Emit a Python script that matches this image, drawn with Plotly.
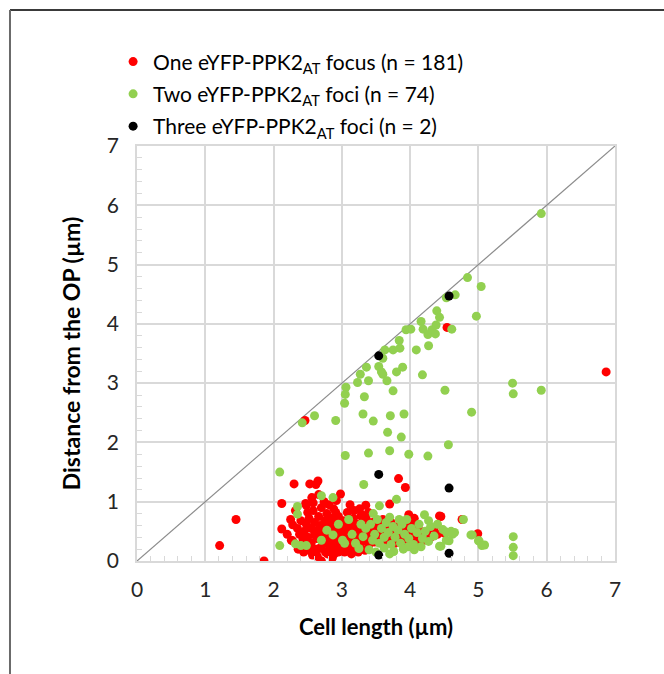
import plotly.graph_objects as go

# ---- data ----
red_x = [1.21, 1.45, 1.86, 2.69, 2.12, 2.12, 2.28, 2.30, 2.53, 2.65, 2.62, 2.56, 2.48, 2.47, 2.50, 2.43, 2.26, 2.28, 2.67,
         2.46, 4.54, 6.87, 2.98, 3.35, 3.70, 3.83, 3.93, 3.28, 3.98, 4.43, 4.06, 4.76, 4.99, 4.45, 4.50, 3.63, 2.87, 2.70,
         2.35, 2.38, 2.40, 2.42, 2.45, 2.48, 2.50, 2.52, 2.55, 2.55, 2.58, 2.60, 2.60, 2.62, 2.63, 2.65, 2.66, 2.68, 2.70,
         2.70, 2.72, 2.73, 2.75, 2.76, 2.78, 2.78, 2.80, 2.80, 2.82, 2.83, 2.84, 2.85, 2.86, 2.87, 2.88, 2.88, 2.90, 2.90,
         2.92, 2.93, 2.94, 2.95, 2.96, 2.97, 2.98, 3.00, 3.00, 3.02, 3.03, 3.05, 3.05, 3.07, 3.08, 3.10, 3.10, 3.12, 3.13,
         3.15, 3.15, 3.17, 3.18, 3.20, 3.20, 3.22, 3.23, 3.25, 3.26, 3.27, 3.28, 3.30, 3.30, 3.32, 3.33, 3.35, 3.36, 3.38,
         3.40, 3.40, 3.42, 3.44, 3.45, 3.47, 3.48, 3.50, 3.52, 3.55, 3.57, 3.60, 3.62, 3.65, 3.68, 3.70, 3.72, 3.75, 3.78,
         3.80, 3.82, 3.85, 3.88, 3.90, 3.93, 3.95, 3.98, 4.00, 4.02, 4.05, 4.08, 4.10, 4.12, 4.15, 4.20, 4.25, 4.30, 4.35,
         4.40, 2.20, 2.25, 2.32, 2.36, 2.44, 2.52, 2.57, 2.64, 2.74, 2.79, 2.81, 2.84, 2.89, 2.91, 2.95, 2.99, 3.04, 3.09,
         3.14, 3.19, 3.24, 3.29, 3.34, 3.39, 2.74, 2.58, 2.66, 2.92, 3.12, 3.18]
red_y = [0.26, 0.70, 0.00, 0.00, 0.97, 0.54, 0.61, 1.30, 1.30, 1.35, 1.29, 1.07, 0.94, 0.97, 0.82, 0.37, 0.35, 0.34, 0.21,
         2.37, 3.94, 3.19, 1.13, 0.94, 0.96, 1.39, 1.24, 0.76, 0.78, 0.76, 0.72, 0.70, 0.46, 0.75, 0.47, 0.30, 0.10, 0.00,
         0.55, 0.45, 0.68, 0.28, 0.50, 0.62, 0.40, 0.72, 0.30, 0.55, 0.85, 0.45, 0.65, 0.20, 0.38, 0.52, 0.75, 0.60, 0.42,
         0.90, 0.28, 0.55, 0.68, 0.15, 0.48, 0.80, 0.35, 0.60, 0.25, 0.50, 0.72, 0.40, 0.05, 0.58, 0.30, 0.88, 0.45, 0.65,
         0.20, 0.52, 0.38, 0.75, 0.60, 0.28, 0.48, 0.55, 0.35, 0.68, 0.42, 0.25, 0.60, 0.50, 0.82, 0.38, 0.58, 0.45, 0.65,
         0.30, 0.52, 0.72, 0.42, 0.58, 0.35, 0.48, 0.62, 0.40, 0.88, 0.55, 0.30, 0.50, 0.65, 0.42, 0.58, 0.35, 0.70, 0.48,
         0.60, 0.28, 0.52, 0.40, 0.65, 0.55, 0.32, 0.45, 0.62, 0.38, 0.52, 0.70, 0.45, 0.58, 0.35, 0.50, 0.65, 0.42, 0.30,
         0.55, 0.45, 0.62, 0.38, 0.50, 0.28, 0.60, 0.45, 0.35, 0.52, 0.62, 0.40, 0.30, 0.55, 0.45, 0.35, 0.50, 0.40, 0.55,
         0.45, 0.45, 0.70, 0.85, 0.20, 0.15, 0.18, 0.10, 0.08, 0.38, 0.12, 0.95, 0.18, 0.12, 0.82, 0.15, 0.22, 0.15, 0.20,
         0.12, 0.22, 0.15, 0.78, 0.18, 0.82, 1.00, 0.98, 1.12, 1.02, 0.95, 0.85]

green_x = [4.84, 4.66, 4.53, 4.97, 4.39, 4.43, 4.16, 4.38, 4.19, 4.32, 4.26, 4.37, 4.01, 3.94, 4.61, 4.27, 4.09, 3.84, 3.85,
           3.75, 3.63, 3.60, 3.54, 3.58, 3.60, 3.36, 3.27, 3.23, 3.39, 3.66, 3.80, 3.89, 4.18, 3.75, 3.06, 3.05, 3.04, 3.33,
           4.51, 2.60, 2.42, 2.91, 3.31, 3.46, 3.71, 3.91, 3.67, 3.87, 4.90, 4.56, 5.92, 5.04, 5.50, 5.51, 5.92,
           3.05, 3.39, 3.70, 3.98, 4.26, 3.32, 2.09, 2.70, 2.87, 3.80, 3.55, 3.46, 2.35, 2.35,
           2.09, 2.32, 2.40, 2.48, 2.70, 4.21, 4.27, 3.84, 3.70, 4.78, 4.65, 4.91, 5.09, 5.01, 4.43, 4.53, 4.27, 4.16, 4.06,
           3.97, 3.76, 3.40, 3.25, 3.04, 2.87, 3.01, 3.31, 4.48, 4.53, 4.60, 4.62, 4.57, 4.45, 4.89, 5.00, 5.05, 5.51, 5.51,
           5.51, 3.35, 3.42, 3.48, 3.52, 3.55, 3.58, 3.62, 3.65, 3.68, 3.72, 3.75, 3.78, 3.82, 3.86, 3.88, 3.92, 3.95, 3.98,
           4.02, 4.05, 4.10, 4.13, 4.18, 4.22, 4.30, 4.35, 4.40, 3.45, 3.62, 3.90, 3.15, 3.20, 2.95, 2.78, 3.10, 3.28, 3.50,
           3.70]
green_y = [4.78, 4.49, 4.44, 4.13, 4.22, 4.11, 4.04, 3.98, 3.91, 3.90, 3.82, 3.83, 3.91, 3.90, 3.91, 3.63, 3.56, 3.72, 3.59,
           3.56, 3.56, 3.42, 3.28, 3.19, 3.15, 3.27, 3.15, 3.01, 3.04, 3.04, 3.19, 3.27, 3.14, 2.87, 2.93, 2.81, 2.66, 2.77,
           2.88, 2.45, 2.33, 2.37, 2.48, 2.36, 2.45, 2.48, 2.17, 2.09, 2.51, 1.96, 5.86, 4.63, 3.00, 2.82, 2.88,
           1.78, 1.82, 1.86, 1.80, 1.77, 1.29, 1.50, 1.10, 1.07, 1.04, 0.93, 0.80, 0.92, 0.79,
           0.26, 0.29, 0.26, 0.26, 0.35, 0.78, 0.68, 0.70, 0.74, 0.70, 0.48, 0.44, 0.27, 0.34, 0.25, 0.35, 0.33, 0.24, 0.19,
           0.24, 0.16, 0.19, 0.21, 0.30, 0.44, 0.35, 0.41, 0.53, 0.49, 0.50, 0.45, 0.34, 0.25, 0.44, 0.34, 0.26, 0.41, 0.23,
           0.09, 0.55, 0.62, 0.45, 0.70, 0.30, 0.55, 0.40, 0.65, 0.48, 0.28, 0.58, 0.40, 0.52, 0.30, 0.62, 0.45, 0.70, 0.38,
           0.55, 0.28, 0.48, 0.62, 0.38, 0.50, 0.58, 0.42, 0.62, 0.35, 0.22, 0.20, 0.45, 0.30, 0.62, 0.52, 0.70, 0.62, 0.15,
           0.12]

black_x = [3.54, 4.57, 3.54, 4.57, 3.54, 4.57]
black_y = [3.46, 4.47, 1.46, 1.23, 0.10, 0.13]

diag_x = [0, 7]
diag_y = [0, 7]

tick_vals = [0, 1, 2, 3, 4, 5, 6, 7]
tick_text = ["0", "1", "2", "3", "4", "5", "6", "7"]

names = ["One eYFP-PPK2<sub>AT</sub> focus (n = 181)",
         "Two eYFP-PPK2<sub>AT</sub> foci (n = 74)",
         "Three eYFP-PPK2<sub>AT</sub> foci (n = 2)"]

FONT = "Lato, 'Open Sans', sans-serif"

fig = go.Figure()
fig.add_trace(go.Scatter(x=diag_x, y=diag_y, mode="lines",
                         line=dict(color="#8c8c8c", width=1.2),
                         showlegend=False, hoverinfo="skip"))
fig.add_trace(go.Scatter(x=red_x, y=red_y, mode="markers", name=names[0], legendgroup="a",
                         marker=dict(color="#ff0000", size=9)))
fig.add_trace(go.Scatter(x=green_x, y=green_y, mode="markers", name=names[1], legendgroup="b",
                         marker=dict(color="#92d050", size=9)))
fig.add_trace(go.Scatter(x=black_x, y=black_y, mode="markers", name=names[2], legendgroup="c",
                         marker=dict(color="#000000", size=9)))

axis_common = dict(
    range=[0, 7], tickvals=tick_vals, ticktext=tick_text,
    showgrid=True, gridcolor="#d9d9d9", gridwidth=1.5,
    showline=True, linecolor="#d9d9d9", linewidth=1.5, mirror=True,
    ticks="inside", ticklen=5, tickcolor="#d9d9d9",
    minor=dict(dtick=0.2, ticks="inside", ticklen=5, tickcolor="#d9d9d9", showgrid=False),
    zeroline=False, tickfont=dict(family=FONT, size=21, color="#262626"),
    fixedrange=True, automargin=False,
)

# frame of the picture: only its top and left edges are visible
frame = [
    dict(type="line", xref="paper", yref="paper", x0=-0.2657, x1=1.2, y0=1.328, y1=1.328,
         line=dict(color="#3a3a3a", width=2)),
    dict(type="line", xref="paper", yref="paper", x0=-0.2657, x1=-0.2657, y0=-0.4, y1=1.328,
         line=dict(color="#6a6a6a", width=2)),
]

fig.update_layout(
    width=664, height=674,
    margin=dict(l=137, r=49, t=146, b=113, autoexpand=False),
    paper_bgcolor="white", plot_bgcolor="white",
    font=dict(family=FONT, color="#000000"),
    showlegend=True,
    legend=dict(x=-0.05, y=1.252, xanchor="left", yanchor="top",
                font=dict(family=FONT, size=21, color="#000000"),
                bgcolor="rgba(0,0,0,0)", tracegroupgap=2, itemwidth=30),
    xaxis=dict(**axis_common,
               title=dict(text="<b>Cell length (µm)</b>", font=dict(family=FONT, size=22), standoff=20),
               ticklabelstandoff=9),
    yaxis=dict(**axis_common,
               title=dict(text="<b>Distance from the OP (µm)</b>", font=dict(family=FONT, size=23), standoff=20),
               ticklabelstandoff=12),
    shapes=frame,
)

fig.write_html("out.html", config={"displayModeBar": False},
               post_script="document.body.style.margin='0';")
